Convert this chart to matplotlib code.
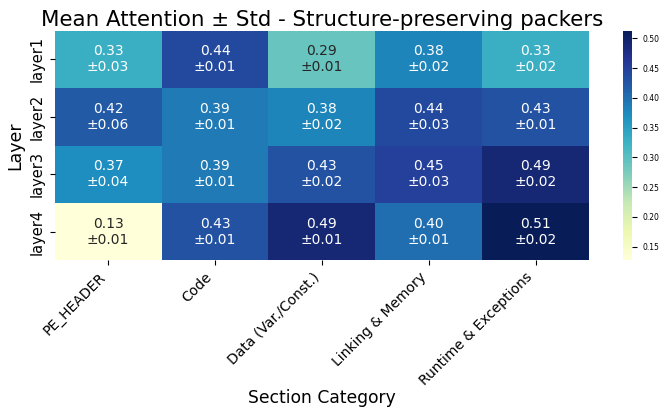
import numpy as np
import matplotlib
matplotlib.use("Agg")
import matplotlib.pyplot as plt
import seaborn as sns

layers = ["layer1", "layer2", "layer3", "layer4"]
categories = ["PE_HEADER", "Code", "Data (Var./Const.)", "Linking & Memory",
              "Runtime & Exceptions"]
mean_vals = np.array([
    [0.33, 0.44, 0.29, 0.38, 0.33],
    [0.42, 0.39, 0.38, 0.44, 0.43],
    [0.37, 0.39, 0.43, 0.45, 0.49],
    [0.127, 0.43, 0.49, 0.40, 0.513],
])
std_vals = np.array([
    [0.03, 0.01, 0.01, 0.02, 0.02],
    [0.06, 0.01, 0.02, 0.03, 0.01],
    [0.04, 0.01, 0.02, 0.03, 0.02],
    [0.01, 0.01, 0.01, 0.01, 0.02],
])

labels = np.array([[f"{m:.2f}\n±{s:.2f}" for m, s in zip(mr, sr)]
                   for mr, sr in zip(mean_vals, std_vals)])

fig = plt.figure(figsize=(6.67, 4.07), dpi=100)
ax = fig.add_axes([0.082, 0.36, 0.801, 0.565])
cax = fig.add_axes([0.934, 0.36, 0.014, 0.565])
sns.heatmap(mean_vals, annot=labels, fmt="", cmap="YlGnBu", ax=ax, cbar_ax=cax,
            xticklabels=categories, yticklabels=layers,
            annot_kws={"fontsize": 10})
cax.tick_params(labelsize=5.5)
ax.set_title("Mean Attention ± Std - Structure-preserving packers",
             fontsize=15.4, pad=3)
ax.set_xlabel("Section Category", fontsize=12.3)
ax.xaxis.set_label_coords(0.5, -0.56)
ax.set_ylabel("Layer", fontsize=12.5)
plt.setp(ax.get_xticklabels(), rotation=45, ha="right", fontsize=10)
plt.setp(ax.get_yticklabels(), fontsize=10.5)
fig.savefig("out.png", dpi=100)
